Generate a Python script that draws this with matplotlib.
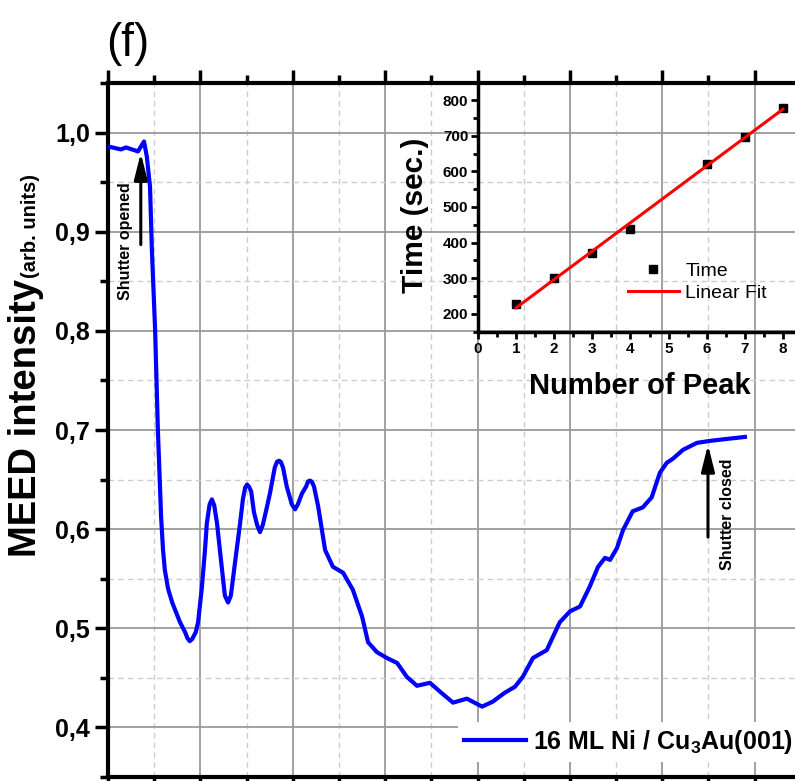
import numpy as np
import matplotlib.pyplot as plt
from matplotlib.ticker import MultipleLocator

plt.rcParams['font.family'] = ['Liberation Sans', 'DejaVu Sans']
plt.rcParams['mathtext.fontset'] = 'custom'
plt.rcParams['mathtext.rm'] = 'Liberation Sans'
plt.rcParams['mathtext.bf'] = 'Liberation Sans:bold'

# MEED intensity during growth, time in seconds
time_s = [0, 28, 39, 65, 78, 84, 91, 95, 102, 108, 115, 119, 123, 130, 139, 156, 167,
          172, 177, 182, 190, 195, 203, 210, 214, 220, 225, 230, 236, 242, 253, 260,
          266, 276, 286, 292, 297, 301, 305, 310, 316, 323, 329, 335, 343, 351,
          361, 366, 370, 374, 379, 387, 398, 405, 411, 420, 429, 433, 437, 441,
          446, 455, 470, 487, 509, 530, 550, 563, 582, 604, 626, 647, 669, 697,
          719, 747, 777, 810, 833, 859, 881, 898, 920, 950, 978, 1000, 1022,
          1043, 1061, 1076, 1087, 1102, 1115, 1136, 1158, 1177, 1195, 1210,
          1223, 1245, 1275, 1303, 1340, 1379]
intensity = [0.986, 0.983, 0.985, 0.981, 0.991, 0.976, 0.945, 0.882, 0.801, 0.700,
             0.612, 0.580, 0.559, 0.540, 0.526, 0.506, 0.496, 0.490, 0.487, 0.489,
             0.496, 0.506, 0.540, 0.579, 0.606, 0.625, 0.630, 0.624, 0.606, 0.580,
             0.533, 0.526, 0.533, 0.570, 0.606, 0.630, 0.642, 0.645, 0.643, 0.638,
             0.617, 0.604, 0.597, 0.604, 0.620, 0.637, 0.662, 0.668, 0.669, 0.668,
             0.662, 0.643, 0.625, 0.620, 0.625, 0.636, 0.643, 0.648, 0.649, 0.648,
             0.643, 0.623, 0.579, 0.562, 0.556, 0.539, 0.512, 0.486, 0.476, 0.470,
             0.465, 0.451, 0.442, 0.445, 0.436, 0.425, 0.429, 0.421, 0.426, 0.435,
             0.441, 0.451, 0.470, 0.478, 0.506, 0.517, 0.522, 0.542, 0.562, 0.571,
             0.569, 0.581, 0.599, 0.618, 0.622, 0.632, 0.657, 0.667, 0.671, 0.680,
             0.687, 0.689, 0.691, 0.693]

# time of each intensity maximum
peak_no = [1, 2, 3, 4, 6, 7, 8]
peak_time = [228, 300, 370, 438, 620, 697, 778]

y_ticks = [0.4, 0.5, 0.6, 0.7, 0.8, 0.9, 1.0]
y_ticklabels = ['0,4', '0,5', '0,6', '0,7', '0,8', '0,9', '1,0']

W, H = 795, 781
fig = plt.figure(figsize=(W / 100, H / 100), dpi=100)


def fx(px):
    return px / W


def fy(py):
    return 1 - py / H


# main panel (runs past the right edge of the canvas)
ax = fig.add_axes([fx(108), fy(777), (847 - 108) / W, (777 - 83) / H])
ax.plot(time_s, intensity, color='#0000ff', lw=3, solid_joinstyle='round',
        label='16 ML Ni / Cu$_\\mathbf{3}$Au(001)', zorder=3)
ax.set_xlim(0, 1600)
ax.set_ylim(0.35, 1.05)
ax.xaxis.set_major_locator(MultipleLocator(200))
ax.xaxis.set_minor_locator(MultipleLocator(100))
ax.set_yticks(y_ticks)
ax.set_yticklabels(y_ticklabels, fontweight='bold', fontsize=18)
ax.yaxis.set_minor_locator(MultipleLocator(0.05))
ax.set_axisbelow(True)
ax.grid(which='major', color='#9a9a9a', lw=1.3, ls='-')
ax.grid(which='minor', color='#cccccc', lw=1.0, ls=(0, (4, 3)))
for s in ax.spines.values():
    s.set_linewidth(3)
ax.tick_params(which='both', direction='out', top=True, right=True, width=2.5,
               labelbottom=False)
ax.tick_params(which='major', length=9.5, pad=3.5)
ax.tick_params(which='minor', length=5.5)

ax.legend(loc='lower left', bbox_to_anchor=(fx(458), fy(762)),
          bbox_transform=fig.transFigure, prop={'weight': 'bold', 'size': 18},
          handlelength=2.45, handletextpad=0.3, borderpad=0.25, borderaxespad=0,
          fancybox=False, framealpha=1, edgecolor='none', facecolor='white')

arrow = dict(arrowstyle='-|>,head_length=0.8,head_width=0.2', mutation_scale=20,
             lw=2.2, color='black', shrinkA=0, shrinkB=0)
ax.annotate('', xy=(71, 0.9795), xytext=(71, 0.887), arrowprops=arrow)
ax.text(37, 0.891, 'Shutter opened', rotation=90, ha='center', va='center',
        fontsize=11.5, fontweight='bold')
ax.annotate('', xy=(1299, 0.6852), xytext=(1299, 0.592), arrowprops=arrow)
ax.text(1342, 0.6146, 'Shutter closed', rotation=90, ha='center', va='center',
        fontsize=11.5, fontweight='bold')

fig.text(fx(36), fy(418), 'MEED intensity', rotation=90, rotation_mode='anchor',
         ha='center', va='baseline', fontsize=27.5, fontweight='bold')
fig.text(fx(36), fy(226), '(arb. units)', rotation=90, rotation_mode='anchor',
         ha='center', va='baseline', fontsize=14.5, fontweight='bold')
fig.text(fx(106), fy(44), '(f)', ha='left', va='center', fontsize=33)

# inset: peak time vs peak number
axin = fig.add_axes([fx(478), fy(331.8), 324 / W, (331.8 - 82.2) / H])
axin.patch.set_alpha(0)
axin.plot(peak_no, peak_time, 's', color='black', ms=5.5, label='Time', zorder=2)
slope, icpt = np.polyfit(peak_no, peak_time, 1)
fit_x = np.array([peak_no[0], peak_no[-1]])
axin.plot(fit_x, slope * fit_x + icpt, color='red', lw=2.2, label='Linear Fit',
          zorder=3)
axin.set_xlim(0, 8.5)
axin.set_ylim(150, 850)
axin.set_xticks(range(0, 9))
axin.xaxis.set_minor_locator(MultipleLocator(0.5))
axin.set_yticks(range(200, 801, 100))
axin.yaxis.set_minor_locator(MultipleLocator(50))
for lab in axin.get_xticklabels() + axin.get_yticklabels():
    lab.set_fontweight('bold')
    lab.set_fontsize(11)
axin.spines['top'].set_visible(False)
axin.spines['right'].set_visible(False)
axin.spines['left'].set_linewidth(2.5)
axin.spines['bottom'].set_linewidth(2.5)
axin.tick_params(which='both', direction='out', width=2)
axin.tick_params(which='major', length=5, pad=2)
axin.tick_params(which='minor', length=3.5)
axin.legend(loc='upper left', bbox_to_anchor=(fx(628), fy(262)),
            bbox_transform=fig.transFigure, frameon=False, fontsize=14,
            handlelength=2.6, handletextpad=0.35, labelspacing=0.25,
            borderpad=0, borderaxespad=0)

fig.text(fx(423), fy(215), 'Time (sec.)', rotation=90, rotation_mode='anchor',
         ha='center', va='baseline', fontsize=21.5, fontweight='bold')
fig.text(fx(640), fy(394), 'Number of Peak', ha='center', va='baseline',
         fontsize=21, fontweight='bold')

fig.savefig('out.png', dpi=100)
